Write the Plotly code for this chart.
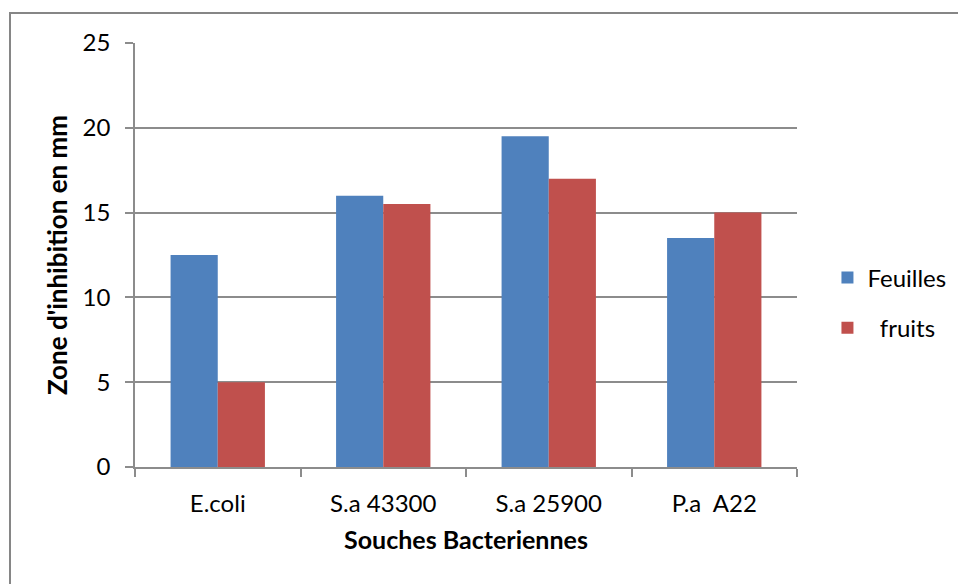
import plotly.graph_objects as go

categories = ["E.coli", "S.a 43300", "S.a 25900", "P.a  A22"]
feuilles = [12.5, 16, 19.5, 13.5]
fruits = [5, 15.5, 17, 15]
y_ticks = [0, 5, 10, 15, 20, 25]

FONT = "Lato, Calibri, Carlito, sans-serif"
GRID = "#8c8c8c"

fig = go.Figure()
fig.add_trace(go.Bar(x=categories, y=feuilles, name="Feuilles",
                     marker=dict(color="#4F81BD", line=dict(width=0)),
                     legendgroup="a"))
fig.add_trace(go.Bar(x=categories, y=fruits, name="  fruits",
                     marker=dict(color="#C0504D", line=dict(width=0)),
                     legendgroup="b"))

bx0 = (10 - 135) / 662
by1 = 1 + 30 / 424

fig.update_layout(
    width=958, height=584,
    margin=dict(l=135, r=161, t=43, b=117, autoexpand=False),
    paper_bgcolor="white", plot_bgcolor="white",
    font=dict(family=FONT, size=24, color="black"),
    barmode="group", bargap=0.43, bargroupgap=0,
    showlegend=True,
    legend=dict(x=1.046, y=0.387, xanchor="left", yanchor="middle",
                font=dict(size=24), tracegroupgap=16, itemwidth=30,
                bgcolor="rgba(0,0,0,0)"),
    xaxis=dict(
        title=dict(text="<b>Souches Bacteriennes</b>", font=dict(size=25), standoff=16),
        showline=True, linecolor=GRID, linewidth=1.5,
        ticks="outside", tickson="boundaries", ticklen=8, tickcolor=GRID,
        tickwidth=1.5, showgrid=False, ticklabelstandoff=14,
        tickfont=dict(size=24), automargin=False,
    ),
    yaxis=dict(
        title=dict(text="<b>Zone d'inhibition en mm</b>", font=dict(size=26), standoff=8),
        range=[0, 25], tickvals=y_ticks,
        showline=True, linecolor=GRID, linewidth=1.5,
        ticks="outside", ticklen=8, tickcolor=GRID, tickwidth=1.5,
        showgrid=True, gridcolor=GRID, gridwidth=1.5,
        zeroline=False, ticklabelstandoff=10,
        tickfont=dict(size=24), automargin=False,
    ),
    shapes=[dict(type="path", xref="paper", yref="paper",
                 path=f"M {bx0},-1 L {bx0},{by1} L 2,{by1}",
                 line=dict(color="#868686", width=2), layer="below")],
)

fig.write_html("out.html")
